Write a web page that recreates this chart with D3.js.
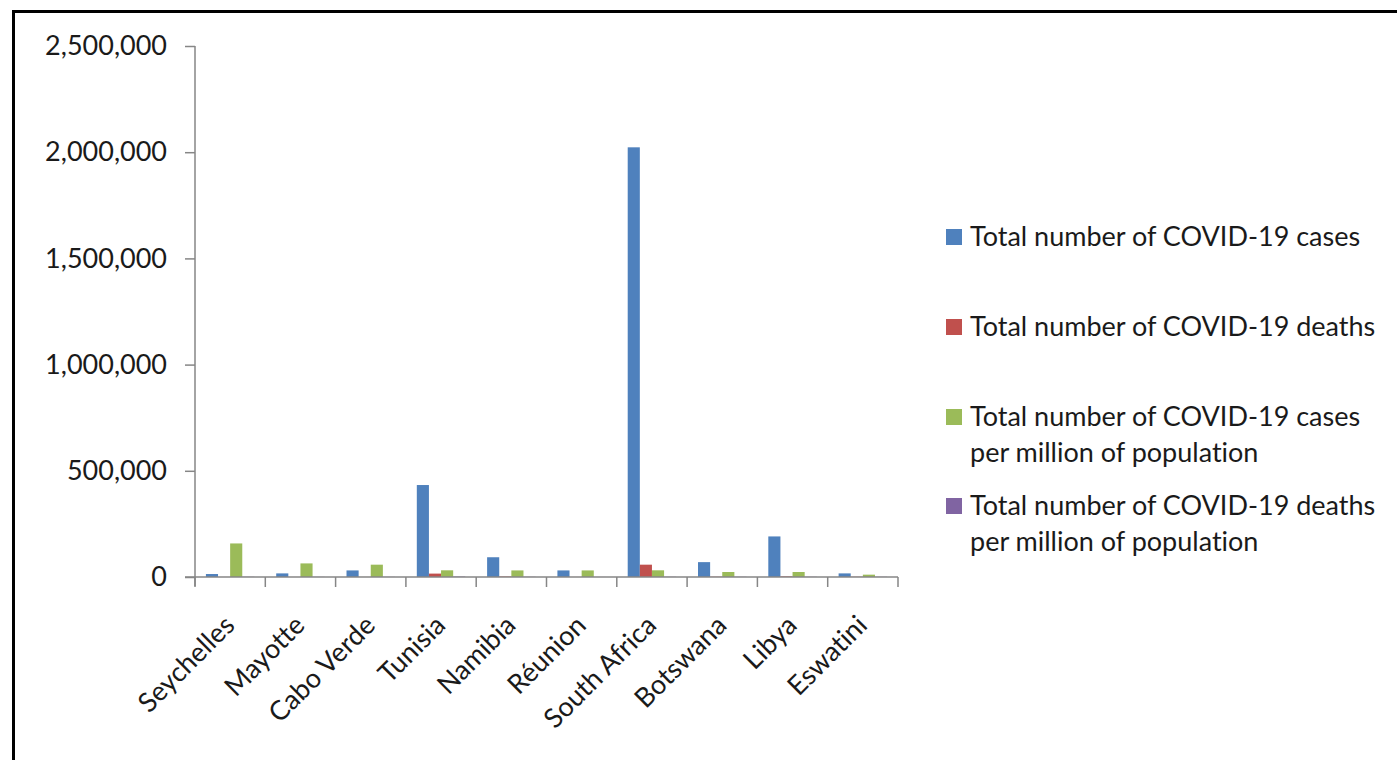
<!DOCTYPE html>
<html>
<head>
<meta charset="utf-8">
<script src="https://cdn.jsdelivr.net/npm/d3@7"></script>
<style>
  html, body { margin: 0; padding: 0; background: #fff; }
  svg { display: block; }
  text { font-family: Lato, "Open Sans", sans-serif; fill: #1a1a1a; font-variant-ligatures: none; }
</style>
</head>
<body>
<svg id="chart" width="1397" height="760"></svg>
<script>
// countries along the x axis
var countries = ["Seychelles", "Mayotte", "Cabo Verde", "Tunisia", "Namibia",
  "Réunion", "South Africa", "Botswana", "Libya", "Eswatini"];

// values
var totalCases = [14000, 17000, 31000, 433000, 93000, 31000, 2023000, 70000, 191000, 17000];
var totalDeaths = [100, 180, 300, 16000, 2500, 200, 58000, 1400, 3000, 1200];
var casesPerMillion = [158000, 64000, 58000, 31500, 31000, 31000, 31500, 23500, 23500, 11000];
var deathsPerMillion = [1000, 650, 600, 2100, 1000, 230, 960, 1000, 950, 1000];

var seriesNames = ["Total number of COVID-19 cases", "Total number of COVID-19 deaths",
  "Total number of COVID-19 cases|per million of population",
  "Total number of COVID-19 deaths|per million of population"];
var seriesColors = ["#4f81bd", "#c0504d", "#9bbb59", "#8064a2"];
var yTicks = [0, 500000, 1000000, 1500000, 2000000, 2500000];

var allSeries = [totalCases, totalDeaths, casesPerMillion, deathsPerMillion];
var fontSize = 27;

var svg = d3.select("#chart");

// frame round the picture (only top and left edges are visible)
svg.append("rect")
  .attr("x", 13.5).attr("y", 11.5)
  .attr("width", 1500).attr("height", 900)
  .attr("fill", "none")
  .attr("stroke", "#000")
  .attr("stroke-width", 3);

var x0 = d3.scaleBand().domain(countries).range([195, 898]).padding(0);
var x1 = d3.scaleBand().domain(d3.range(4))
  .range([0, x0.bandwidth()]).paddingInner(0).paddingOuter(0.9);
var y = d3.scaleLinear().domain([0, 2500000]).range([577, 46]);

// bars
var groups = svg.append("g").selectAll("g")
  .data(countries)
  .enter().append("g")
  .attr("transform", function(d){ return "translate(" + x0(d) + ",0)"; });

groups.selectAll("rect")
  .data(function(d, i){
    return allSeries.map(function(s, k){ return {k: k, v: s[i]}; });
  })
  .enter().append("rect")
  .attr("x", function(d){ return x1(d.k); })
  .attr("width", x1.bandwidth())
  .attr("y", function(d){ return y(d.v); })
  .attr("height", function(d){ return y(0) - y(d.v); })
  .attr("fill", function(d){ return seriesColors[d.k]; });

// y axis
var yAxis = svg.append("g")
  .attr("transform", "translate(195,0)")
  .call(d3.axisLeft(y).tickValues(yTicks).tickSize(10).tickPadding(18)
    .tickFormat(d3.format(",")));
yAxis.select(".domain").attr("stroke", "#868686").attr("stroke-width", 1.5)
  .attr("d", "M0,46V586");
yAxis.selectAll(".tick line").attr("stroke", "#868686").attr("stroke-width", 1.5);
yAxis.selectAll(".tick text").attr("font-size", fontSize).attr("fill", "#1a1a1a")
  .style("font-family", "Lato, sans-serif");

// x axis baseline and ticks between categories
svg.append("line")
  .attr("x1", 185).attr("x2", x0.range()[1])
  .attr("y1", y(0)).attr("y2", y(0))
  .attr("stroke", "#868686").attr("stroke-width", 1.5);
var edges = countries.map(function(c){ return x0(c); }).concat([x0.range()[1]]);
svg.append("g").selectAll("line")
  .data(edges)
  .enter().append("line")
  .attr("x1", function(d){ return d; }).attr("x2", function(d){ return d; })
  .attr("y1", y(0)).attr("y2", y(0) + 10)
  .attr("stroke", "#868686").attr("stroke-width", 1.5);

// rotated category labels
svg.append("g").selectAll("text")
  .data(countries)
  .enter().append("text")
  .attr("transform", function(d){
    return "translate(" + (x0(d) + x0.bandwidth() / 2 + 6) + ",627) rotate(-45)";
  })
  .attr("text-anchor", "end")
  .attr("font-size", fontSize)
  .text(function(d){ return d; });

// legend
var legendY = [237, 327, 417, 506];
var legend = svg.append("g").selectAll("g")
  .data(seriesNames)
  .enter().append("g")
  .attr("transform", function(d, i){ return "translate(946," + legendY[i] + ")"; });
legend.append("rect")
  .attr("x", 0).attr("y", -8)
  .attr("width", 16).attr("height", 16)
  .attr("fill", function(d, i){ return seriesColors[i]; });
legend.append("text")
  .attr("x", 24).attr("y", 9)
  .attr("font-size", fontSize)
  .selectAll("tspan")
  .data(function(d){ return d.split("|"); })
  .enter().append("tspan")
  .attr("x", 24)
  .attr("dy", function(d, i){ return i === 0 ? 0 : 36; })
  .text(function(d){ return d; });
</script>
</body>
</html>
